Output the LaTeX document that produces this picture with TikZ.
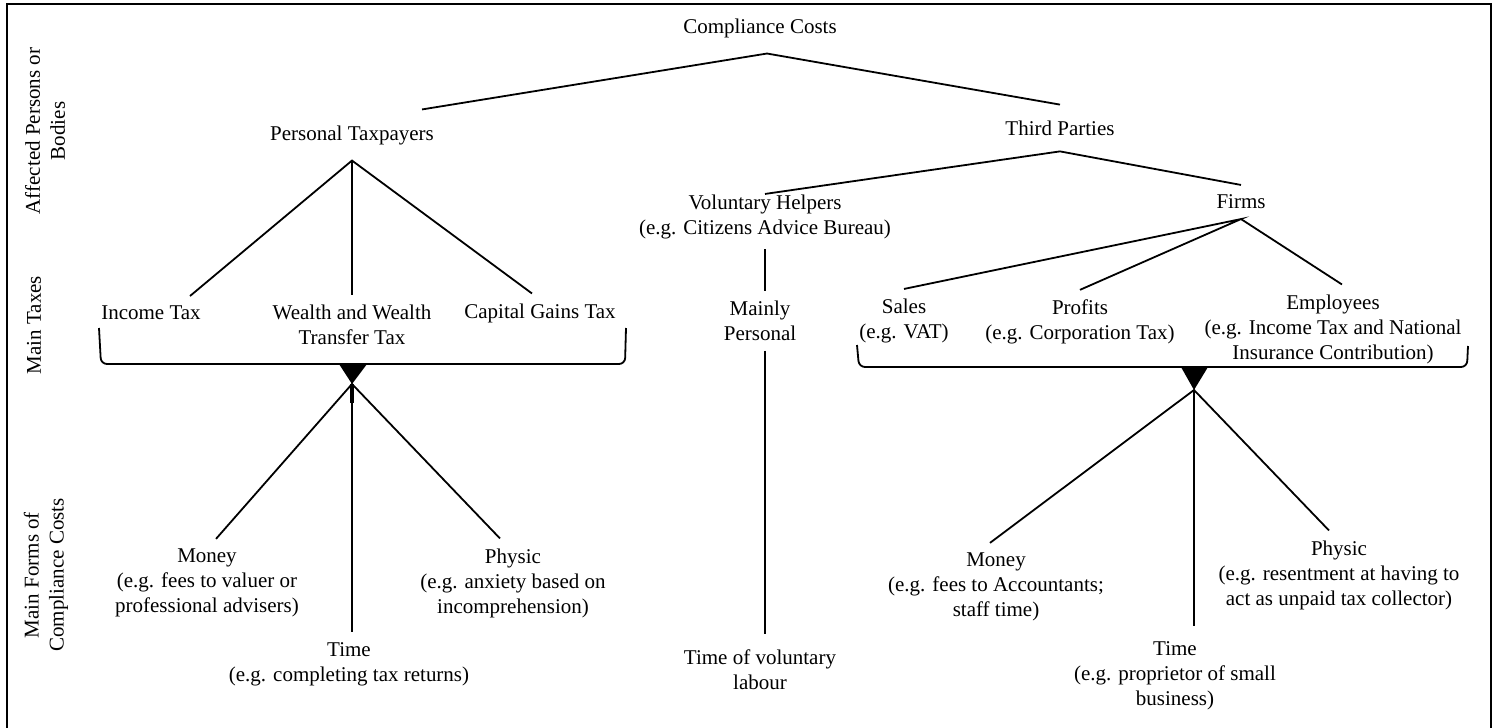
\documentclass[tikz,border=0pt]{standalone}
\usepackage{fontspec}
\setmainfont{Liberation Serif}

\begin{document}
\begin{tikzpicture}[x=0.5pt, y=-0.5pt,
    lbl/.style={align=center, inner sep=3pt, outer sep=2pt, font=\fontsize{10.5}{12.5}\selectfont},
    gap/.style={outer sep=5pt},
    side/.style={lbl, rotate=90},
    link/.style={line width=0.9pt},
    brace/.style={line width=0.9pt, rounded corners=3pt}]

  % page size as in the original (frame is open at the bottom)
  \useasboundingbox (0,0) rectangle (1496,728);
  \draw[line width=1.1pt] (7,740) -- (7,4) -- (1491,4) -- (1491,740);

  % --- row labels ---
  \node[side] (rowa) at (45,131) {Affected Persons or\\Bodies};
  \node[side] (rowb) at (34,325) {Main Taxes};
  \node[side] (rowc) at (46,575) {Main Forms of\\Compliance Costs};

  % --- affected persons or bodies ---
  \node[lbl, gap] (cc) at (760,28) {Compliance Costs};
  \node[lbl, gap] (pt) at (352,135) {Personal Taxpayers};
  \node[lbl, gap] (tp) at (1060,128) {Third Parties};
  \node[lbl] (vh) at (765,217) {Voluntary Helpers\\(e.g. Citizens Advice Bureau)};
  \node[lbl] (fi) at (1241,202) {Firms};

  % --- main taxes ---
  \node[lbl] (it) at (151,313) {Income Tax};
  \node[lbl] (wt) at (352,325) {Wealth and Wealth\\Transfer Tax};
  \node[lbl] (cg) at (540,313) {Capital Gains Tax};
  \node[lbl] (mp) at (760,321) {Mainly\\Personal};
  \node[lbl] (sa) at (904,321) {Sales\\(e.g. VAT)};
  \node[lbl] (pr) at (1080,322) {Profits\\(e.g. Corporation Tax)};
  \node[lbl] (em) at (1333,329) {Employees\\(e.g. Income Tax and National\\Insurance Contribution)};

  % --- main forms of compliance costs ---
  \node[lbl] (mo1) at (207,583) {Money\\(e.g. fees to valuer or\\professional advisers)};
  \node[lbl] (ti1) at (349,664) {Time\\(e.g. completing tax returns)};
  \node[lbl] (ph1) at (513,583) {Physic\\(e.g. anxiety based on\\incomprehension)};
  \node[lbl, gap] (tv) at (760,670) {Time of voluntary\\labour};
  \node[lbl] (mo2) at (996,587) {Money\\(e.g. fees to Accountants;\\staff time)};
  \node[lbl, gap] (ti2) at (1175,676) {Time\\(e.g. proprietor of small\\business)};
  \node[lbl] (ph2) at (1339,575) {Physic\\(e.g. resentment at having to\\act as unpaid tax collector)};

  % --- braces grouping the taxes ---
  \draw[brace] (99,328) -- (101,364) -- (625,364) -- (626,328);
  \fill (339,364) -- (367,364) -- (352,384) -- cycle;
  \coordinate (lt) at (352,384);
  \draw[line width=2pt] (lt) -- ++(0,19);

  \draw[brace] (857,345) -- (859,367) -- (1467,367) -- (1468,346);
  \fill (1181,367) -- (1208,367) -- (1194,390) -- cycle;
  \coordinate (rt) at (1194,390);

  % --- tree lines ---
  \draw[link] ([xshift=35pt]pt.north) -- ([xshift=3.5pt]cc.south) -- (tp.north);
  \draw[link] ([xshift=19.5pt]it.north) -- (pt.south) -- ([xshift=-4pt]cg.north);
  \draw[link] (pt.south) -- (wt.north);
  \draw[link] ([yshift=-4.5pt]vh.north) -- (tp.south) -- (fi.north);
  \draw[link] (vh.south) -- (vh.south |- mp.north);
  \draw[link] (vh.south |- mp.south) -- (vh.south |- tv.north);
  \draw[link] (sa.north) -- (fi.south) -- (pr.north);
  \draw[link] (fi.south) -- ([xshift=4.5pt]em.north);

  \draw[link] ([xshift=4.5pt]mo1.north) -- (lt) -- ([xshift=-6.5pt]ph1.north);
  \draw[link] (lt) -- (lt |- ti1.north);
  \draw[link] ([xshift=-3pt]mo2.north) -- (rt) -- ([xshift=-5pt]ph2.north);
  \draw[link] (rt) -- (rt |- ti2.north);
\end{tikzpicture}
\end{document}
